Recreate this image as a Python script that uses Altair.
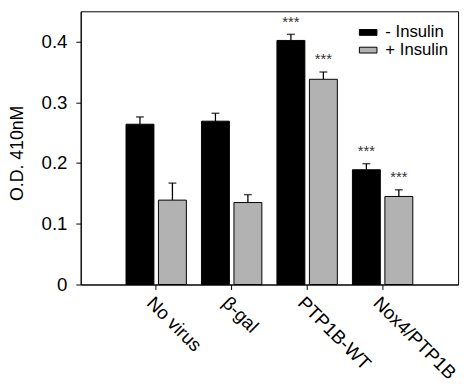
import altair as alt
import pandas as pd

groups = ["No virus", "β-gal", "PTP1B-WT", "Nox4/PTP1B"]
series = ["- Insulin", "+ Insulin"]
minus_ins = [0.264, 0.269, 0.402, 0.189]
minus_err = [0.012, 0.013, 0.010, 0.010]
plus_ins = [0.139, 0.135, 0.338, 0.145]
plus_err = [0.028, 0.013, 0.012, 0.011]
minus_sig = ["", "", "***", "***"]
plus_sig = ["", "", "***", "***"]

rows = []
for i, g in enumerate(groups):
    rows.append({"group": g, "series": series[0], "value": minus_ins[i], "top": minus_ins[i] + minus_err[i], "sig": minus_sig[i]})
    rows.append({"group": g, "series": series[1], "value": plus_ins[i], "top": plus_ins[i] + plus_err[i], "sig": plus_sig[i]})
df = pd.DataFrame(rows)

FONT = "Liberation Sans"

x = alt.X("group:N", sort=groups, title=None,
          scale=alt.Scale(paddingInner=0.2, paddingOuter=0.6),
          axis=alt.Axis(labelAngle=45, labelFontSize=19, labelFont=FONT, labelColor="black",
                        labelAlign="left", labelBaseline="top", labelPadding=4,
                        tickSize=5, tickColor="black", domainColor="black", labelOverlap=False,
                        labelLimit=300))
xoff = alt.XOffset("series:N", sort=series, scale=alt.Scale(paddingInner=0.14))

base = alt.Chart(df)

bars = base.mark_bar(stroke="black", strokeWidth=1).encode(
    x=x, xOffset=xoff,
    y=alt.Y("value:Q", scale=alt.Scale(domain=[0, 0.45], nice=False),
            axis=alt.Axis(values=[0, 0.1, 0.2, 0.3, 0.4], title="O.D. 410nM",
                          labelExpr="datum.value == 0 ? '0' : format(datum.value, '.1f')",
                          labelFontSize=19, labelFont=FONT, labelColor="black", labelPadding=9,
                          titleFontSize=18, titleFont=FONT, titleFontWeight="normal", titleColor="black",
                          titlePadding=15, titleY=144, tickSize=5, tickColor="black",
                          domainColor="black", grid=False)),
    fill=alt.Fill("series:N", sort=series,
                  scale=alt.Scale(domain=series, range=["#000000", "#b2b2b2"]),
                  legend=alt.Legend(title=None, orient="none", legendX=283, legendY=12,
                                    symbolType="M-1,-0.33L1,-0.33L1,0.33L-1,0.33Z", symbolSize=320,
                                    symbolStrokeColor="black", symbolStrokeWidth=1,
                                    labelFontSize=17, labelFont=FONT, labelColor="black",
                                    labelOffset=8, rowPadding=0)),
)

err = base.mark_rule(color="black", strokeWidth=1.3).encode(
    x=x, xOffset=xoff, y="value:Q", y2="top:Q")
cap = base.mark_tick(color="black", thickness=1.5, size=8, orient="horizontal").encode(
    x=x, xOffset=xoff, y="top:Q")
stars = base.mark_text(baseline="bottom", dy=-5, fontSize=15, font=FONT, color="#333333").encode(
    x=x, xOffset=xoff, y="top:Q", text="sig:N")

chart = alt.layer(bars, err, cap, stars).properties(
    width=384, height=278,
    autosize=alt.AutoSizeParams(type="none"),
    padding={"left": 74, "top": 0, "right": 5, "bottom": 104},
).configure_view(stroke="black", strokeWidth=1)

chart.save("out.html", embed_options={"renderer": "svg", "actions": False})
